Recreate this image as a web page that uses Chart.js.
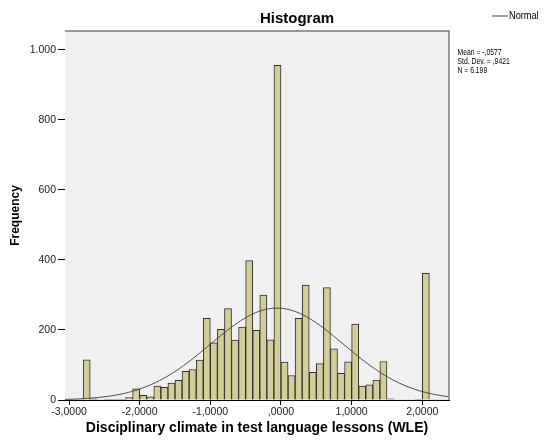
<!DOCTYPE html>
<html>
<head>
<meta charset="utf-8">
<script src="https://cdn.jsdelivr.net/npm/chart.js@4.4.1/dist/chart.umd.min.js"></script>
<style>
  html, body { margin: 0; padding: 0; background: #ffffff; }
  #wrap { position: relative; width: 547px; height: 443px; }
</style>
</head>
<body>
<div id="wrap"><canvas id="hist"></canvas></div>
<script>
// Bin centres (bin width 0,1) of the WLE index
const binCenters = [
  -2.95, -2.85, -2.75, -2.65, -2.55, -2.45, -2.35, -2.25, -2.15, -2.05,
  -1.95, -1.85, -1.75, -1.65, -1.55, -1.45, -1.35, -1.25, -1.15, -1.05,
  -0.95, -0.85, -0.75, -0.65, -0.55, -0.45, -0.35, -0.25, -0.15, -0.05,
   0.05,  0.15,  0.25,  0.35,  0.45,  0.55,  0.65,  0.75,  0.85,  0.95,
   1.05,  1.15,  1.25,  1.35,  1.45,  1.55,  1.65,  1.75,  1.85,  1.95,
   2.05,  2.15,  2.25,  2.35
];
// Number of students per bin
const frequencies = [
    0,   0, 115,   3,   0,   2,   1,   2,   7,  32,
   13,   9,  40,  36,  48,  56,  82,  87, 114, 233,
  163, 202, 261, 171, 208, 398, 199, 300, 172, 956,
  108,  70, 233, 328,  79, 104, 321, 146,  76, 109,
  217,  40,  43,  57, 110,   3,   0,   0,   0,   2,
  362,   0,   0,   0
];
// Axis ticks
const xTickValues = [-3, -2, -1, 0, 1, 2];
const yTickValues = [0, 200, 400, 600, 800, 1000];

// Summary statistics shown beside the plot
const meanValue = -0.0577;
const stdDevValue = 0.9421;
const sampleSize = 6199;
const binWidth = 0.1;

const xMin = -3.057, xMax = 2.378;
const yMax = 1054;

// Fitted normal density scaled to counts per bin
const curveX = [];
for (let v = xMin; v <= xMax + 1e-9; v += 0.02) curveX.push(v);
const curvePoints = curveX.map(v => ({
  x: v,
  y: sampleSize * binWidth / (stdDevValue * Math.sqrt(2 * Math.PI)) *
     Math.exp(-0.5 * Math.pow((v - meanValue) / stdDevValue, 2))
}));

const barPoints = binCenters.map((c, i) => ({ x: c, y: frequencies[i] }));

function fmtX(v) {
  let s = Math.abs(v).toFixed(4).replace('.', ',');
  if (s.startsWith('0,')) s = s.slice(1);
  return (v < 0 ? '-' : '') + s;
}
function fmtY(v) {
  return String(v).replace(/\B(?=(\d{3})+(?!\d))/g, '.');
}

const FONT = '"Liberation Sans", Arial, sans-serif';

const plotFrame = {
  id: 'plotFrame',
  beforeDatasetsDraw(chart) {
    const { ctx, chartArea: a } = chart;
    ctx.save();
    ctx.fillStyle = '#f0f0f0';
    ctx.fillRect(a.left, a.top, a.right - a.left, a.bottom - a.top);
    ctx.restore();
  },
  afterDraw(chart) {
    const { ctx, chartArea: a } = chart;
    ctx.save();
    ctx.strokeStyle = '#7a7a7a';
    ctx.lineWidth = 1.5;
    ctx.beginPath();
    ctx.moveTo(a.left, a.top);
    ctx.lineTo(a.right, a.top);
    ctx.lineTo(a.right, a.bottom);
    ctx.stroke();

    // Title
    ctx.fillStyle = '#000';
    ctx.textAlign = 'center';
    ctx.textBaseline = 'middle';
    ctx.font = 'bold 15px ' + FONT;
    ctx.fillText('Histogram', 297, 19);

    // Legend entry
    ctx.strokeStyle = '#444';
    ctx.lineWidth = 1;
    ctx.beginPath();
    ctx.moveTo(492, 16);
    ctx.lineTo(508, 16);
    ctx.stroke();
    ctx.textAlign = 'left';
    ctx.font = '10px ' + FONT;
    ctx.fillStyle = '#000';
    ctx.save();
    ctx.translate(509, 16);
    ctx.scale(0.92, 1);
    ctx.fillText('Normal', 0, 0);
    ctx.restore();

    // Statistics
    const lines = ['Mean = ' + fmtX(meanValue),
                   'Std. Dev. = ' + fmtX(stdDevValue),
                   'N = ' + fmtY(sampleSize)];
    ctx.font = '8.5px ' + FONT;
    lines.forEach((t, i) => {
      ctx.save();
      ctx.translate(457.5, 53 + i * 8.8);
      ctx.scale(0.8, 1);
      ctx.fillText(t, 0, 0);
      ctx.restore();
    });
    ctx.restore();
  }
};

new Chart(document.getElementById('hist'), {
  type: 'bar',
  data: {
    datasets: [
      {
        type: 'line',
        label: 'Normal',
        data: curvePoints,
        borderColor: '#444444',
        borderWidth: 1,
        pointRadius: 0,
        fill: false,
        tension: 0,
        order: 0
      },
      {
        type: 'bar',
        label: 'Frequency',
        data: barPoints,
        backgroundColor: '#d3ce97',
        borderColor: '#2e2e2e',
        borderWidth: ctx => (ctx.raw && ctx.raw.y > 0 ? 1 : 0),
        barPercentage: 1,
        categoryPercentage: 1,
        order: 1
      }
    ]
  },
  options: {
    responsive: true,
    maintainAspectRatio: false,
    animation: false,
    layout: { padding: { top: 31, right: 98, left: 0, bottom: 0 } },
    plugins: {
      legend: { display: false },
      title: { display: false },
      tooltip: { enabled: false }
    },
    scales: {
      x: {
        type: 'linear',
        min: xMin,
        max: xMax,
        offset: false,
        afterBuildTicks: s => { s.ticks = xTickValues.map(v => ({ value: v })); },
        afterFit: s => { s.height = 43; },
        grid: { offset: false, drawOnChartArea: false, drawTicks: true, tickLength: 5, color: '#000' },
        border: { display: true, color: '#000', width: 1 },
        ticks: {
          callback: v => fmtX(v),
          color: '#222',
          padding: 1,
          maxRotation: 0,
          autoSkip: false,
          font: { family: FONT, size: 10.5 }
        },
        title: {
          display: true,
          text: 'Disciplinary climate in test language lessons (WLE)',
          color: '#000',
          font: { family: FONT, size: 14, weight: 'bold' },
          padding: { top: 0, bottom: 6 }
        }
      },
      y: {
        type: 'linear',
        min: 0,
        max: yMax,
        afterBuildTicks: s => { s.ticks = yTickValues.map(v => ({ value: v })); },
        afterFit: s => { s.width = 65; },
        grid: { offset: false, drawOnChartArea: false, drawTicks: true, tickLength: 7, color: '#000' },
        border: { display: true, color: '#000', width: 1 },
        ticks: {
          callback: v => fmtY(v),
          color: '#222',
          padding: 2,
          font: { family: FONT, size: 10.5 }
        },
        title: {
          display: true,
          text: 'Frequency',
          color: '#000',
          font: { family: FONT, size: 12, weight: 'bold' },
          padding: { top: 8, bottom: 0 }
        }
      }
    }
  },
  plugins: [plotFrame]
});
</script>
</body>
</html>
